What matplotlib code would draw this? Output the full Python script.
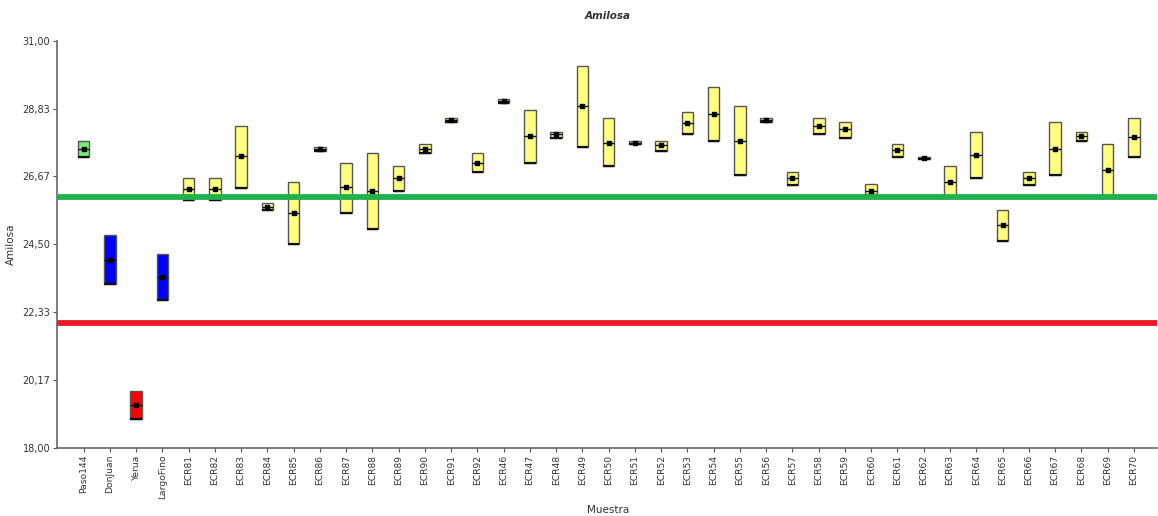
import matplotlib
matplotlib.use("Agg")
import matplotlib.pyplot as plt
import numpy as np

# Amylose content per sample: minimum, maximum and mean
muestras = ["Paso144", "DonJuan", "Yerua", "LargoFino",
            "ECR81", "ECR82", "ECR83", "ECR84", "ECR85", "ECR86", "ECR87", "ECR88",
            "ECR89", "ECR90", "ECR91", "ECR92", "ECR46", "ECR47", "ECR48", "ECR49",
            "ECR50", "ECR51", "ECR52", "ECR53", "ECR54", "ECR55", "ECR56", "ECR57",
            "ECR58", "ECR59", "ECR60", "ECR61", "ECR62", "ECR63", "ECR64", "ECR65",
            "ECR66", "ECR67", "ECR68", "ECR69", "ECR70"]

minimo = [27.30, 23.22, 18.93, 22.72,
          25.91, 25.91, 26.30, 25.60, 24.50, 27.49, 25.50, 25.00,
          26.19, 27.41, 28.40, 26.80, 29.01, 27.10, 27.90, 27.61,
          27.00, 27.70, 27.49, 28.02, 27.80, 26.72, 28.40, 26.40,
          28.02, 27.90, 26.08, 27.30, 27.21, 26.04, 26.61, 24.62,
          26.40, 26.72, 27.80, 26.04, 27.30]

maximo = [27.80, 24.81, 19.81, 24.19,
          26.61, 26.61, 28.29, 25.81, 26.49, 27.61, 27.10, 27.41,
          27.00, 27.71, 28.52, 27.41, 29.13, 28.79, 28.10, 30.20,
          28.52, 27.79, 27.79, 28.71, 29.51, 28.91, 28.52, 26.80,
          28.52, 28.40, 26.42, 27.71, 27.30, 27.00, 28.10, 25.61,
          26.80, 28.40, 28.10, 27.71, 28.52]

media = [27.55, 24.00, 19.37, 23.45,
         26.26, 26.26, 27.31, 25.69, 25.51, 27.55, 26.32, 26.19,
         26.61, 27.55, 28.47, 27.11, 29.08, 27.97, 28.03, 28.91,
         27.74, 27.74, 27.66, 28.36, 28.66, 27.80, 28.47, 26.61,
         28.27, 28.17, 26.19, 27.50, 27.26, 26.50, 27.36, 25.12,
         26.61, 27.55, 27.97, 26.86, 27.92]

# Fill colour per group: reference, high/low checks, lines
colores = ["#77EE77", "#0000FF", "#FF0000", "#0000FF"] + ["#FFFF80"] * 37

limite_alto = 26.0
limite_bajo = 22.0
y_ticks = [18.00, 20.17, 22.33, 24.50, 26.67, 28.83, 31.00]

plt.rcParams["font.family"] = ["DejaVu Sans"]
fig = plt.figure(figsize=(11.58, 5.16), dpi=100)
ax = fig.add_axes([0.0495, 0.132, 0.95, 0.789])

x = np.arange(len(muestras))
lo = np.array(minimo)
hi = np.array(maximo)
w = 0.44

ax.bar(x, hi - lo, bottom=lo, width=w, color=colores,
       edgecolor="#555555", linewidth=1.0, zorder=2)
# darker lower edge of each box
ax.hlines(lo, x - w / 2, x + w / 2, color="#111111", linewidth=1.6, zorder=3)
# mean line and marker
ax.hlines(media, x - w / 2, x + w / 2, color="#111111", linewidth=1.0, zorder=3)
ax.scatter(x, media, marker="s", s=9, color="black", zorder=4)

ax.axhline(limite_alto, color="#22B14C", linewidth=4.2, zorder=5)
ax.axhline(limite_bajo, color="#ED1C24", linewidth=4.2, zorder=5)

ax.set_xlim(-1.0, 40.9)
ax.set_ylim(18, 31)
ax.set_yticks(y_ticks)
ax.set_yticklabels([f"{v:.2f}".replace(".", ",") for v in y_ticks],
                   fontsize=7, color="#333333")
ax.set_xticks(x)
ax.set_xticklabels(muestras, rotation=90, fontsize=6.6, color="#333333")
ax.tick_params(axis="both", length=3, width=0.8, color="#555555", pad=2)

for side in ("top", "right"):
    ax.spines[side].set_visible(False)
for side in ("left", "bottom"):
    ax.spines[side].set_color("#666666")
    ax.spines[side].set_linewidth(1.2)

ax.set_title("Amilosa", fontsize=7.5, fontstyle="italic", fontweight="bold",
             color="#333333", pad=16)
ax.set_ylabel("Amilosa", fontsize=7.5, color="#333333", labelpad=5)
fig.text(0.525, 0.012, "Muestra", fontsize=7.5, color="#333333",
         ha="center", va="center")

fig.savefig("out.png", dpi=100)
